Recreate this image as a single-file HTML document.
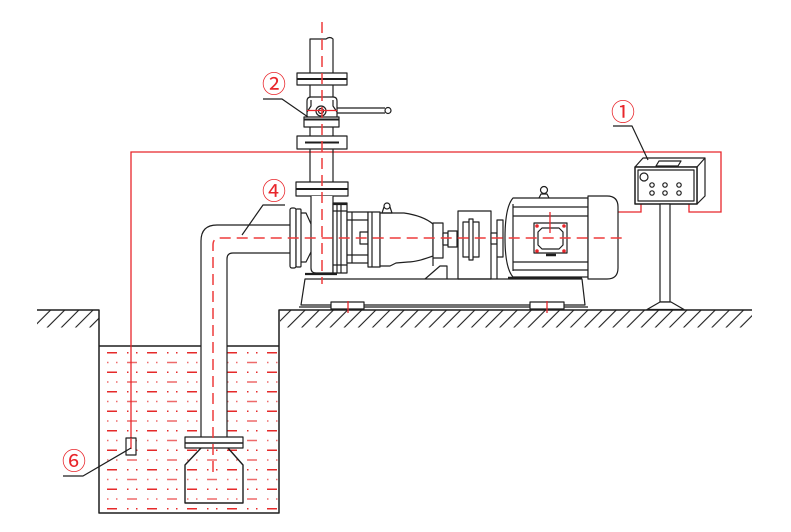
<!DOCTYPE html>
<html>
<head>
<meta charset="utf-8">
<style>
  html,body{margin:0;padding:0;background:#fff;}
  svg{display:block;}
  .k{fill:none;stroke:#1e1e1e;stroke-width:1.2;stroke-linejoin:round;}
  .kw{fill:#fff;stroke:#1e1e1e;stroke-width:1.2;stroke-linejoin:round;}
  .r{fill:none;stroke:#e8262b;stroke-width:1.3;}
  .rd{fill:none;stroke:#ee3b3b;stroke-width:1.5;stroke-dasharray:11 6;}
  .wa{fill:none;stroke:#e52a2a;stroke-width:1.5;stroke-dasharray:10 10 1.5 7.5 1.5 9.5;stroke-dashoffset:32;}
  .wb{fill:none;stroke:#ee6a6a;stroke-width:1.5;stroke-dasharray:10 10 1.5 7.5 1.5 9.5;stroke-dashoffset:12;}
  .lbl{font-family:"Liberation Sans","Noto Sans CJK SC",sans-serif;font-size:24px;fill:#e8262b;}
</style>
</head>
<body>
<svg width="791" height="532" viewBox="0 0 791 532" xmlns="http://www.w3.org/2000/svg">
  <defs>
    <pattern id="h" width="10" height="10" patternUnits="userSpaceOnUse" patternTransform="rotate(45)">
      <line x1="5" y1="0" x2="5" y2="10" stroke="#1e1e1e" stroke-width="1.1"/>
    </pattern>
  </defs>
  <rect width="791" height="532" fill="#fff"/>

  <!-- ground hatching -->
  <rect x="37" y="310.5" width="62" height="17" fill="url(#h)"/>
  <rect x="280" y="310.5" width="472" height="17" fill="url(#h)"/>

  <!-- water lines -->
  <g>
    <line class="wa" x1="99" y1="352.7" x2="279" y2="352.7"/>
    <line class="wb" x1="99" y1="362.5" x2="279" y2="362.5"/>
    <line class="wa" x1="99" y1="372.2" x2="279" y2="372.2"/>
    <line class="wb" x1="99" y1="382" x2="279" y2="382"/>
    <line class="wa" x1="99" y1="391.7" x2="279" y2="391.7"/>
    <line class="wb" x1="99" y1="401.5" x2="279" y2="401.5"/>
    <line class="wa" x1="99" y1="411.2" x2="279" y2="411.2"/>
    <line class="wb" x1="99" y1="421" x2="279" y2="421"/>
    <line class="wa" x1="99" y1="430.7" x2="279" y2="430.7"/>
    <line class="wb" x1="99" y1="440.5" x2="279" y2="440.5"/>
    <line class="wa" x1="99" y1="450.2" x2="279" y2="450.2"/>
    <line class="wb" x1="99" y1="460" x2="279" y2="460"/>
    <line class="wa" x1="99" y1="469.7" x2="279" y2="469.7"/>
    <line class="wb" x1="99" y1="479.5" x2="279" y2="479.5"/>
    <line class="wa" x1="99" y1="489.2" x2="279" y2="489.2"/>
    <line class="wb" x1="99" y1="499" x2="279" y2="499"/>
    <line class="wa" x1="99" y1="508.7" x2="279" y2="508.7"/>
  </g>
  <!-- pipe column mask -->
  <rect x="201.6" y="346" width="24.8" height="91" fill="#fff"/>

  <!-- pit & ground -->
  <path class="k" d="M37,310 L99,310 L99,513 L279,513 L279,310 L752,310" style="stroke-width:1.5"/>
  <line class="k" x1="99" y1="346" x2="201" y2="346" style="stroke-width:1.5"/>
  <line class="k" x1="227" y1="346" x2="279" y2="346" style="stroke-width:1.5"/>

  <!-- red control wiring -->
  <path class="r" d="M131,438 L131,152 L721,152 L721,212 L689,212 L689,204"/>
  <path class="r" d="M550,233 L550,212 L641,212 L641,204"/>

  <!-- suction pipe -->
  <path class="k" d="M290,225 L217,225 Q201,225 201,241 L201,437"/>
  <path class="k" d="M290,253 L233,253 Q227,253 227,259 L227,437"/>

  <!-- foot valve -->
  <rect class="kw" x="185" y="437" width="58" height="11"/>
  <line class="k" x1="185" y1="443" x2="243" y2="443" style="stroke-width:1.6"/>
  <path class="k" d="M201,448 L185,465 L185,503 L243,503 L243,465 L228,448" style="stroke-width:1.4"/>

  <!-- sensor -->
  <rect class="kw" x="126" y="438" width="10" height="17"/>
  <line class="r" x1="131" y1="438" x2="131" y2="449"/>

  <!-- discharge pipe -->
  <path class="k" d="M310,73 L310,39 L326,39 Q330,36 333,39 L333,73"/>
  <rect class="kw" x="297" y="73" width="50" height="12"/>
  <line class="k" x1="297" y1="79" x2="347" y2="79" style="stroke-width:2"/>
  <line class="k" x1="310" y1="85" x2="310" y2="97"/>
  <line class="k" x1="333" y1="85" x2="333" y2="97"/>
  <!-- valve -->
  <path class="kw" d="M307,118 L307,101 Q307,97 311,97 L333,97 Q337,97 337,101 L337,118 Z"/>
  <path class="k" d="M311,100 L311,106 L307,112 M333,100 L333,106 L337,112"/>
  <rect class="kw" x="304" y="117" width="35" height="10"/>
  <line class="k" x1="304" y1="119.5" x2="339" y2="119.5" style="stroke-width:2"/>
  <path class="k" d="M337,108 L385,108 M337,113 L385,113"/>
  <circle class="kw" cx="388" cy="110.5" r="3"/>
  <circle class="kw" cx="321" cy="111" r="5"/>
  <circle class="k" cx="321" cy="111" r="2.5"/>
  <line class="r" x1="307" y1="110.5" x2="337" y2="110.5"/>
  <line class="k" x1="310" y1="127" x2="310" y2="136"/>
  <line class="k" x1="333" y1="127" x2="333" y2="136"/>
  <rect class="kw" x="297" y="136" width="50" height="13"/>
  <line class="k" x1="305" y1="142.5" x2="339" y2="142.5" style="stroke-width:2"/>
  <line class="k" x1="310" y1="149" x2="310" y2="182"/>
  <line class="k" x1="333" y1="149" x2="333" y2="182"/>
  <rect class="kw" x="296" y="182" width="52" height="14"/>
  <line class="k" x1="296" y1="189" x2="348" y2="189" style="stroke-width:2"/>

  <!-- pump -->
  <rect class="kw" x="290" y="208" width="6" height="60" rx="2"/>
  <rect class="kw" x="296" y="209" width="5" height="58" rx="1"/>
  <path class="k" d="M301,213 L306,213 L311,224 M301,262 L306,262 L311,252"/>
  <path class="kw" d="M311,196 L311,268 Q311,273 316,273 L333,273 L333,196"/>
  <rect class="kw" x="333" y="203" width="14" height="70"/>
  <line class="k" x1="333" y1="204" x2="347" y2="204" style="stroke-width:2.2"/>
  <path class="k" d="M337,203 L337,273 M341,203 L341,273 M333,211 L347,211 M333,265 L347,265"/>
  <rect class="kw" x="347" y="212" width="21" height="51"/>
  <path class="k" d="M352,212 L352,263 M347,220 L368,220 M347,255 L368,255"/>
  <rect class="kw" x="360" y="232" width="8" height="12"/>
  <rect class="kw" x="368" y="212" width="12" height="55"/>
  <line class="k" x1="372" y1="212" x2="372" y2="267"/>
  <path class="kw" d="M380,213 L404,213 C418,215 427,219 433,224 L433,256 C424,259 416,262 408,262 L396,263 L390,266 L380,266 Z"/>
  <path class="k" d="M384,207 L390,207 L392,213 L382,213 Z"/>
  <circle class="kw" cx="387" cy="206" r="3"/>
  <rect class="kw" x="433" y="223" width="10" height="35"/>
  <path class="k" d="M425,279 L440,266 L447,266 L447,279 M433,258 L433,266"/>
  <rect class="kw" x="443" y="233" width="5" height="12"/>
  <rect class="kw" x="448" y="231" width="9" height="16"/>
  <!-- coupling guard -->
  <rect class="kw" x="458" y="211" width="33" height="68"/>
  <rect class="kw" x="463" y="222" width="16" height="35"/>
  <rect class="kw" x="469" y="219" width="4" height="41"/>
  <rect class="kw" x="491" y="233" width="6" height="11"/>
  <rect class="kw" x="497" y="220" width="6" height="37"/>
  <line class="k" x1="497" y1="257" x2="497" y2="279"/>
  <!-- motor -->
  <path class="kw" d="M513,198 L588,198 L588,277 L513,277 Q505,268 505,238 Q505,207 513,198 Z"/>
  <path class="k" d="M513,204 L513,271 M513,207 L588,207 M513,216 L588,216 M513,262 L588,262 M513,270 L588,270"/>
  <path class="kw" d="M588,196 L607,196 Q618,196 618,207 L618,268 Q618,279 607,279 L588,279 Z"/>
  <path class="k" d="M539,198 L541,194 L547,194 L549,198"/>
  <circle class="kw" cx="544" cy="190" r="3.5"/>
  <rect class="kw" x="534" y="223" width="33" height="30"/>
  <path class="k" d="M542,228 L559,228 L563,232 L563,245 L559,249 L542,249 L538,245 L538,232 Z"/>
  <line class="k" x1="546" y1="255" x2="556" y2="255" style="stroke-width:2.5"/>
  <g fill="#e8262b">
    <circle cx="537" cy="226" r="1.8"/><circle cx="564" cy="226" r="1.8"/>
    <circle cx="537" cy="251" r="1.8"/><circle cx="564" cy="251" r="1.8"/>
  </g>
  <line class="k" x1="508" y1="278" x2="582" y2="278" style="stroke-width:2.4"/>
  <!-- base -->
  <line class="k" x1="305" y1="274" x2="337" y2="274" style="stroke-width:2.2"/>
  <path class="k" d="M305,279 L582,279 L585,305 L301,305 Z"/>
  <line class="k" x1="299" y1="307" x2="588" y2="307"/>
  <rect class="kw" x="331" y="302" width="33" height="7"/>
  <rect class="kw" x="530" y="302" width="34" height="7"/>
  <line class="r" x1="348" y1="301" x2="348" y2="313"/>
  <line class="r" x1="547" y1="301" x2="547" y2="313"/>

  <!-- centerlines -->
  <line class="rd" x1="322" y1="22" x2="322" y2="284"/>
  <path class="rd" d="M213,472 L213,245 Q213,238 220,238 L626,238"/>
  <line class="r" x1="550" y1="212" x2="550" y2="233"/>

  <!-- control box -->
  <path class="kw" d="M635,167 L643,158 L705,158 L705,196 L697,204 L697,167 Z"/>
  <line class="k" x1="697" y1="167" x2="705" y2="158"/>
  <path class="k" d="M659,161 L681,161 L678,166 L656,166 Z"/>
  <rect class="kw" x="635" y="167" width="62" height="37" style="stroke-width:1.5"/>
  <rect class="k" x="638" y="170" width="56" height="31"/>
  <circle class="k" cx="644" cy="177" r="4"/>
  <g class="k">
    <circle cx="652" cy="185" r="2.2"/><circle cx="665" cy="185" r="2.2"/><circle cx="679" cy="185" r="2.2"/>
    <circle cx="652" cy="193" r="2.2"/><circle cx="665" cy="193" r="2.2"/><circle cx="679" cy="193" r="2.2"/>
  </g>
  <rect class="kw" x="660" y="204" width="10" height="98"/>
  <path class="kw" d="M660,302 L647,309.5 L684,309.5 L671,302 Z"/>

  <!-- labels & leaders -->
  <text class="lbl" x="623" y="113" text-anchor="middle" dominant-baseline="central">①</text>
  <path class="k" d="M613,126 L632,126 L648,160"/>
  <text class="lbl" x="274" y="85" text-anchor="middle" dominant-baseline="central">②</text>
  <path class="k" d="M263,99 L282,99 L308,117"/>
  <text class="lbl" x="274" y="192" text-anchor="middle" dominant-baseline="central">④</text>
  <path class="k" d="M285,205 L263,205 L242,235"/>
  <text class="lbl" x="74" y="462" text-anchor="middle" dominant-baseline="central">⑥</text>
  <path class="k" d="M63,476 L83,476 L131,448"/>
</svg>
</body>
</html>
